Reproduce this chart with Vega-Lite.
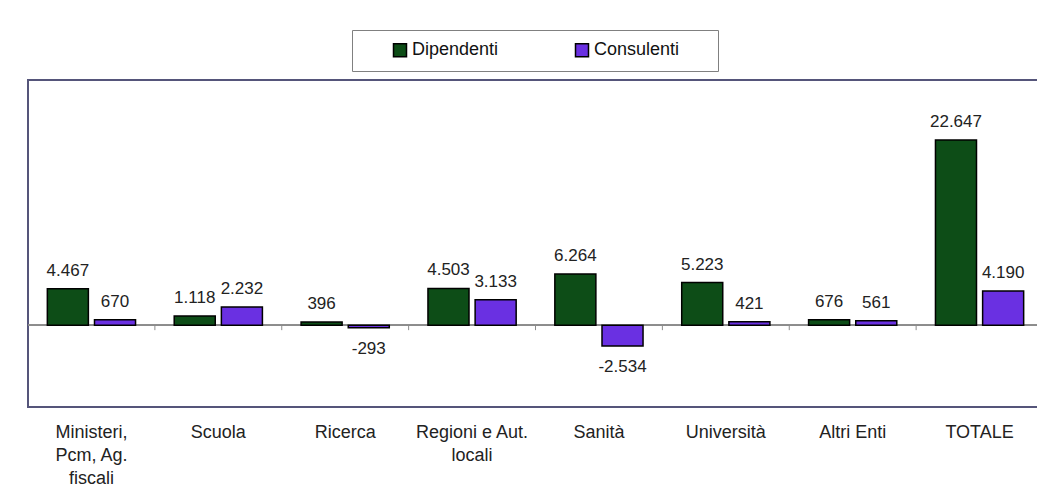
{
  "$schema": "https://vega.github.io/schema/vega-lite/v6.json",
  "width": 1015,
  "height": 327,
  "autosize": {"type": "none"},
  "padding": {"left": 28, "top": 80, "right": 0, "bottom": 87},
  "background": "white",
  "config": {
    "font": "Liberation Sans",
    "view": {"stroke": "#55557a", "strokeWidth": 2}
  },
  "data": {
    "values": [
      {"categoria": "Ministeri, Pcm, Ag. fiscali", "serie": "Dipendenti", "valore": 4467},
      {"categoria": "Ministeri, Pcm, Ag. fiscali", "serie": "Consulenti", "valore": 670},
      {"categoria": "Scuola", "serie": "Dipendenti", "valore": 1118},
      {"categoria": "Scuola", "serie": "Consulenti", "valore": 2232},
      {"categoria": "Ricerca", "serie": "Dipendenti", "valore": 396},
      {"categoria": "Ricerca", "serie": "Consulenti", "valore": -293},
      {"categoria": "Regioni e Aut. locali", "serie": "Dipendenti", "valore": 4503},
      {"categoria": "Regioni e Aut. locali", "serie": "Consulenti", "valore": 3133},
      {"categoria": "Sanità", "serie": "Dipendenti", "valore": 6264},
      {"categoria": "Sanità", "serie": "Consulenti", "valore": -2534},
      {"categoria": "Università", "serie": "Dipendenti", "valore": 5223},
      {"categoria": "Università", "serie": "Consulenti", "valore": 421},
      {"categoria": "Altri Enti", "serie": "Dipendenti", "valore": 676},
      {"categoria": "Altri Enti", "serie": "Consulenti", "valore": 561},
      {"categoria": "TOTALE", "serie": "Dipendenti", "valore": 22647},
      {"categoria": "TOTALE", "serie": "Consulenti", "valore": 4190}
    ]
  },
  "layer": [
    {
      "mark": {"type": "rule", "color": "#8c8c8c", "strokeWidth": 1},
      "encoding": {"y": {"datum": 0, "type": "quantitative", "axis": null}}
    },
    {
      "transform": [{"filter": "datum.serie == 'Dipendenti' && datum.categoria != 'Ministeri, Pcm, Ag. fiscali'"}],
      "mark": {"type": "rule", "color": "#8c8c8c", "strokeWidth": 1},
      "encoding": {
        "x": {"field": "categoria", "type": "nominal", "sort": null, "bandPosition": 0},
        "y": {"datum": 0, "type": "quantitative", "axis": null},
        "y2": {"datum": -600}
      }
    },
    {
      "mark": {"type": "bar", "stroke": "black", "strokeWidth": 1.5},
      "encoding": {
        "x": {
          "field": "categoria", "type": "nominal", "sort": null,
          "scale": {
            "domain": ["Ministeri, Pcm, Ag. fiscali", "Scuola", "Ricerca", "Regioni e Aut. locali", "Sanità", "Università", "Altri Enti", "TOTALE"],
            "paddingInner": 0, "paddingOuter": 0
          },
          "axis": {
            "title": null, "orient": "bottom", "ticks": false, "domain": false,
            "bandPosition": 0.5, "labelAlign": "center",
            "labelAngle": 0, "labelFontSize": 18, "labelColor": "#222",
            "labelPadding": 16, "labelLineHeight": 23, "labelBaseline": "top",
            "labelExpr": "datum.value == 'Ministeri, Pcm, Ag. fiscali' ? ['Ministeri,', 'Pcm, Ag.', 'fiscali'] : datum.value == 'Regioni e Aut. locali' ? ['Regioni e Aut.', 'locali'] : datum.value"
          }
        },
        "xOffset": {
          "field": "serie", "type": "nominal",
          "scale": {"domain": ["Dipendenti", "Consulenti"], "paddingInner": 0.13, "paddingOuter": 0.41}
        },
        "y": {
          "field": "valore", "type": "quantitative",
          "scale": {"domain": [-10000, 30000], "nice": false, "zero": false},
          "axis": null
        },
        "color": {
          "field": "serie", "type": "nominal",
          "scale": {"domain": ["Dipendenti", "Consulenti"], "range": ["#0d4d17", "#6a30e2"]},
          "legend": {
            "title": " ", "titleOrient": "right", "titleFontSize": 8, "titlePadding": 28,
            "orient": "none", "legendX": 324, "legendY": -50,
            "direction": "horizontal", "symbolType": "square", "symbolSize": 169,
            "symbolStrokeColor": "black", "symbolStrokeWidth": 1.5,
            "labelFontSize": 18, "labelColor": "#111",
            "padding": 11, "strokeColor": "#808080", "fillColor": "white",
            "symbolOffset": 28, "labelOffset": 3, "columnPadding": 46
          }
        }
      }
    },
    {
      "transform": [
        {"filter": "datum.valore >= 0"},
        {"calculate": "replace(format(datum.valore, ','), ',', '.')", "as": "etichetta"}
      ],
      "mark": {"type": "text", "baseline": "alphabetic", "dy": -13, "fontSize": 17, "color": "#222"},
      "encoding": {
        "x": {"field": "categoria", "type": "nominal", "sort": null},
        "xOffset": {"field": "serie", "type": "nominal"},
        "y": {"field": "valore", "type": "quantitative", "axis": null},
        "text": {"field": "etichetta", "type": "nominal"}
      }
    },
    {
      "transform": [
        {"filter": "datum.valore < 0"},
        {"calculate": "'-' + replace(format(abs(datum.valore), ','), ',', '.')", "as": "etichetta"}
      ],
      "mark": {"type": "text", "baseline": "alphabetic", "dy": 26, "fontSize": 17, "color": "#222"},
      "encoding": {
        "x": {"field": "categoria", "type": "nominal", "sort": null},
        "xOffset": {"field": "serie", "type": "nominal"},
        "y": {"field": "valore", "type": "quantitative", "axis": null},
        "text": {"field": "etichetta", "type": "nominal"}
      }
    }
  ]
}
